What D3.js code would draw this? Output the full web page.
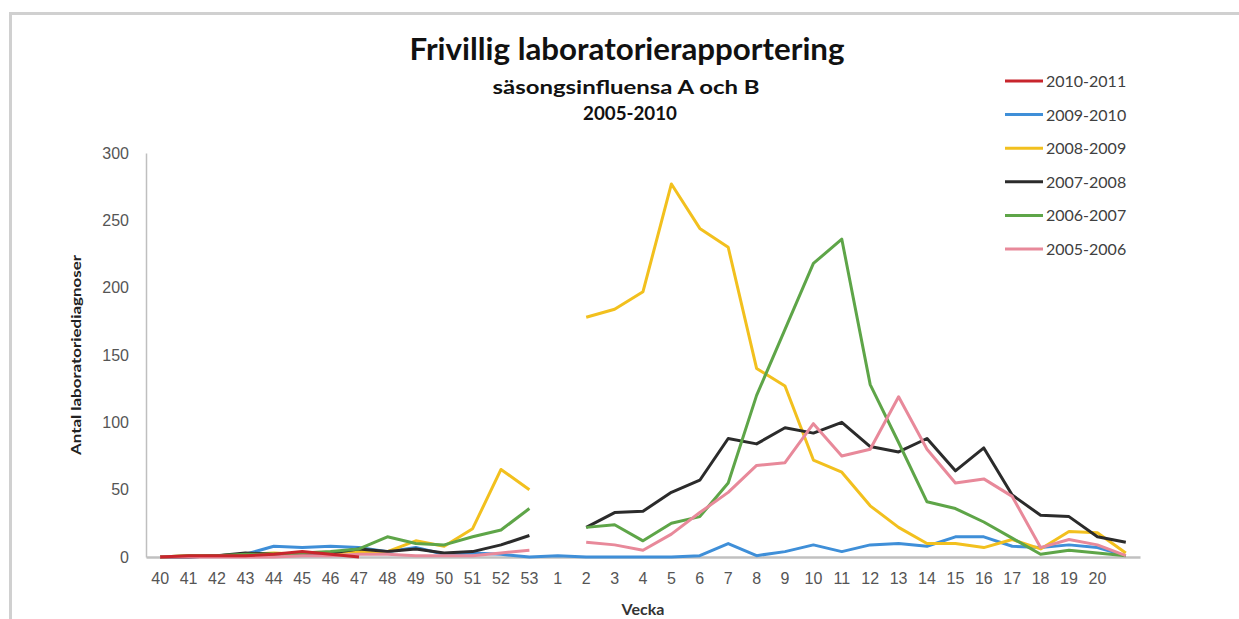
<!DOCTYPE html>
<html>
<head>
<meta charset="utf-8">
<script src="https://cdn.jsdelivr.net/npm/d3@7"></script>
<style>
  body { margin: 0; background: #fff; }
  svg { display: block; font-family: Lato, "Open Sans", sans-serif; }
</style>
</head>
<body>
<div id="chart"></div>
<script>
// Week labels (last category has no label)
const weeks = ["40","41","42","43","44","45","46","47","48","49","50","51","52","53",
  "1","2","3","4","5","6","7","8","9","10","11","12","13","14","15","16","17","18","19","20",""];

const seasons = ["2010-2011", "2009-2010", "2008-2009", "2007-2008", "2006-2007", "2005-2006"];
const colors = ["#c8252c", "#3f8fd8", "#f2c01e", "#2b2b2b", "#5ea548", "#e8899a"];

// values per week, null = no report
const s2010 = [0,1,1,1,2,4,2,0];
const s2009 = [0,0,1,2,8,7,8,7,4,7,2,3,2,0, 1,0,0,0,0,1,10,1,4,9,4,9,10,8,15,15,8,7,9,7,1];
const s2008 = [0,1,1,2,3,2,3,4,4,12,8,21,65,50, null,178,184,197,277,244,230,140,127,72,63,38,22,10,10,7,13,6,19,18,3];
const s2007 = [0,0,1,3,2,2,3,6,4,6,3,4,9,16, null,22,33,34,48,57,88,84,96,92,100,82,78,88,64,81,46,31,30,15,11];
const s2006 = [0,1,1,2,2,3,4,6,15,10,9,15,20,36, null,22,24,12,25,30,55,120,169,218,236,128,85,41,36,26,14,2,5,3,1];
const s2005 = [0,0,0,0,0,1,1,2,2,1,1,1,3,5, null,11,9,5,17,33,48,68,70,99,75,80,119,80,55,58,45,7,13,9,1];
const seriesValues = [s2010, s2009, s2008, s2007, s2006, s2005];

const yTicks = [0, 50, 100, 150, 200, 250, 300];

const W = 1239, H = 619;
const svg = d3.select("#chart").append("svg")
    .attr("width", W)
    .attr("height", H);

// frame
svg.append("path")
    .attr("d", `M10.5,${H} V13.5 H${W}`)
    .attr("fill", "none")
    .attr("stroke", "#d0d0d0")
    .attr("stroke-width", 3);

const x = d3.scaleBand()
    .domain(d3.range(weeks.length))
    .range([146, 1140]);

const y = d3.scaleLinear()
    .domain([0, 300])
    .range([557, 153]);

// titles (text stretched a little to mimic the original narrow font)
function title(txt, cx, cy, size, len) {
    svg.append("text")
        .attr("x", cx).attr("y", cy)
        .attr("text-anchor", "middle")
        .attr("font-size", size).attr("font-weight", "bold")
        .attr("fill", "#111")
        .attr("textLength", len)
        .attr("lengthAdjust", "spacingAndGlyphs")
        .text(txt);
}
title("Frivillig laboratorierapportering", 627, 60, 30, 435);
title("säsongsinfluensa A och B", 626, 94, 19, 267);
title("2005-2010", 630, 120, 19, 94);

// y axis
const yAxis = d3.axisLeft(y).tickValues(yTicks).tickSize(0).tickPadding(17);
const gy = svg.append("g")
    .attr("transform", "translate(146,0)")
    .call(yAxis);
gy.select(".domain").attr("stroke", "#bfbfbf").attr("stroke-width", 1.5);
gy.selectAll("text").attr("font-size", 16).attr("fill", "#555");

// x axis
const xAxis = d3.axisBottom(x).tickFormat(i => weeks[i]).tickSize(0).tickPadding(16);
const gx = svg.append("g")
    .attr("transform", "translate(0,557)")
    .call(xAxis);
gx.select(".domain").attr("stroke", "#c0c0c0").attr("stroke-width", 2.5);
gx.selectAll("text").attr("font-size", 16).attr("fill", "#555");

// axis titles
svg.append("text")
    .attr("transform", "translate(81,355) rotate(-90)")
    .attr("text-anchor", "middle")
    .attr("font-size", 14).attr("font-weight", "bold")
    .attr("fill", "#222")
    .attr("textLength", 200)
    .attr("lengthAdjust", "spacingAndGlyphs")
    .text("Antal laboratoriediagnoser");
svg.append("text")
    .attr("x", 643).attr("y", 615)
    .attr("text-anchor", "middle")
    .attr("font-size", 16).attr("font-weight", "bold")
    .attr("fill", "#333")
    .text("Vecka");

const line = d3.line()
    .defined(d => d != null)
    .x((d, i) => x(i) + x.bandwidth() / 2)
    .y(d => y(d));

// older seasons on top of newer ones, current season (red) last
const order = [1, 2, 3, 4, 5, 0];
order.forEach(k => {
    svg.append("path")
        .datum(seriesValues[k])
        .attr("fill", "none")
        .attr("stroke", colors[k])
        .attr("stroke-width", 3)
        .attr("stroke-linejoin", "round")
        .attr("d", line);
});

// legend
const legend = svg.append("g").attr("transform", "translate(1005,81)");
seasons.forEach((s, i) => {
    const row = legend.append("g").attr("transform", `translate(0,${i * 33.6})`);
    row.append("line")
        .attr("x1", 0).attr("x2", 38)
        .attr("stroke", colors[i]).attr("stroke-width", 3);
    row.append("text")
        .attr("x", 41).attr("y", 6)
        .attr("font-size", 16)
        .attr("fill", "#404040")
        .text(s);
});
</script>
</body>
</html>
